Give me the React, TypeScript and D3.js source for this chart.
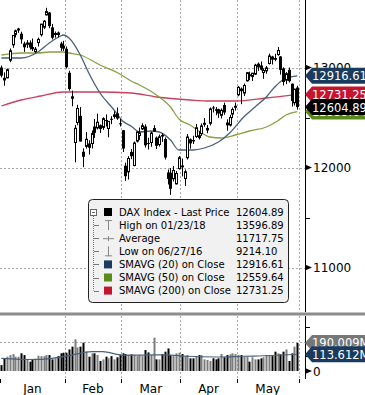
import React from 'react'
import { scaleLinear, line, curveMonotoneX } from 'd3'

// trading sessions shown (Xetra), one entry per candle
const sessions = [
  '12/29/17',
  '01/02/18', '01/03/18', '01/04/18', '01/05/18', '01/08/18', '01/09/18', '01/10/18', '01/11/18', '01/12/18', '01/15/18', '01/16/18',
  '01/17/18', '01/18/18', '01/19/18', '01/22/18', '01/23/18', '01/24/18', '01/25/18', '01/26/18', '01/29/18', '01/30/18', '01/31/18',
  '02/01/18', '02/02/18', '02/05/18', '02/06/18', '02/07/18', '02/08/18', '02/09/18', '02/12/18', '02/13/18', '02/14/18',
  '02/15/18', '02/16/18', '02/19/18', '02/20/18', '02/21/18', '02/22/18', '02/23/18', '02/26/18', '02/27/18', '02/28/18',
  '03/01/18', '03/02/18', '03/05/18', '03/06/18', '03/07/18', '03/08/18', '03/09/18', '03/12/18', '03/13/18', '03/14/18', '03/15/18',
  '03/16/18', '03/19/18', '03/20/18', '03/21/18', '03/22/18', '03/23/18', '03/26/18', '03/27/18', '03/28/18', '03/29/18',
  '04/03/18', '04/04/18', '04/05/18', '04/06/18', '04/09/18', '04/10/18', '04/11/18', '04/12/18', '04/13/18', '04/16/18',
  '04/17/18', '04/18/18', '04/19/18', '04/20/18', '04/23/18', '04/24/18', '04/25/18', '04/26/18', '04/27/18', '04/30/18',
  '05/02/18', '05/03/18', '05/04/18', '05/07/18', '05/08/18', '05/09/18', '05/10/18', '05/11/18', '05/14/18', '05/15/18', '05/16/18',
  '05/17/18', '05/18/18', '05/21/18', '05/22/18', '05/23/18', '05/24/18', '05/25/18', '05/28/18', '05/29/18', '05/30/18', '05/31/18'
]

const openPx = [
  13000, 12897, 12897, 13073, 13227, 13331, 13378, 13338, 13240, 13232, 13250, 13205, 13160, 13249, 13328, 13403, 13526, 13550, 13401, 13330, 13350, 13240, 13219,
  13187, 12947, 12712, 12250, 12450, 12517, 12157, 12211, 12240, 12240, 12410, 12396, 12423, 12401, 12475, 12390, 12487, 12510, 12542, 12442,
  12373, 12018, 11957, 12156, 12020, 12264, 12320, 12386, 12410, 12244, 12250, 12363, 12299, 12230, 12325, 12284, 11950, 11947, 11888, 11836, 11990,
  12020, 11890, 12098, 12283, 12275, 12310, 12323, 12338, 12432, 12376, 12442, 12600, 12583, 12583, 12522, 12625, 12450, 12424, 12534, 12602,
  12727, 12790, 12744, 12867, 12932, 12911, 12934, 13038, 13021, 12950, 12967, 13040, 13110, 13094, 13130, 13110, 12990, 12873, 12977, 12838, 12648, 12799
]
const highPx = [
  13020, 12951, 12990, 13190, 13320, 13379, 13397, 13358, 13258, 13274, 13271, 13290, 13205, 13300, 13434, 13474, 13596.89, 13555, 13436, 13360, 13360, 13257, 13267,
  13210, 12967, 12768, 12426, 12627, 12604, 12192, 12354, 12272, 12370, 12485, 12539, 12431, 12502, 12530, 12461, 12513, 12562, 12600, 12487,
  12376, 12048, 12113, 12185, 12260, 12361, 12400, 12443, 12432, 12297, 12359, 12423, 12310, 12330, 12344, 12300, 11980, 11994, 12014, 11965, 12114,
  12090, 11980, 12334, 12291, 12317, 12436, 12365, 12440, 12496, 12425, 12600, 12616, 12604, 12588, 12590, 12648, 12482, 12526, 12600, 12650,
  12813, 12800, 12840, 12955, 12958, 12946, 13037, 13050, 13060, 12992, 13015, 13139, 13117, 13137, 13204, 13114, 13002, 12954, 13000, 12840, 12788, 12817
]
const lowPx = [
  12900, 12817, 12892, 13053, 13197, 13300, 13347, 13238, 13157, 13195, 13179, 13165, 13146, 13210, 13310, 13385, 13520, 13393, 13282, 13298, 13300, 13166, 13166,
  12990, 12768, 12612, 12052, 12423, 12260, 12003, 12189, 12130, 12190, 12296, 12380, 12345, 12376, 12410, 12302, 12433, 12487, 12477, 12410,
  12155, 11867, 11880, 12083, 12012, 12250, 12275, 12376, 12200, 12180, 12207, 12355, 12184, 12209, 12256, 12080, 11830, 11726, 11860, 11831, 11980,
  11911, 11816, 12080, 12188, 12235, 12296, 12280, 12316, 12407, 12343, 12420, 12550, 12523, 12496, 12490, 12527, 12368, 12410, 12493, 12569,
  12713, 12633, 12715, 12860, 12873, 12866, 12925, 12966, 12970, 12887, 12937, 13030, 13030, 13063, 13117, 12929, 12820, 12833, 12850, 12609, 12620, 12578
]
const closePx = [
  12918, 12871, 12978, 13167, 13320, 13367, 13385, 13281, 13202, 13245, 13200, 13183, 13183, 13281, 13434, 13463, 13559, 13414, 13298, 13340, 13324, 13197, 13189,
  13003, 12785, 12687, 12392, 12590, 12260, 12107, 12282, 12197, 12339, 12346, 12452, 12385, 12488, 12470, 12461, 12483, 12527, 12490, 12435,
  12190, 11913, 12090, 12113, 12245, 12355, 12346, 12418, 12222, 12237, 12345, 12389, 12217, 12307, 12309, 12100, 11886, 11787, 11970, 11940, 12097,
  12002, 11957, 12305, 12241, 12261, 12397, 12294, 12415, 12442, 12391, 12585, 12590, 12567, 12540, 12572, 12550, 12422, 12500, 12580, 12612,
  12802, 12763, 12820, 12948, 12912, 12943, 13023, 13001, 12978, 12970, 12996, 13115, 13078, 13077, 13170, 12976, 12855, 12938, 12863, 12666, 12783, 12604.89
]
// volume in millions
const volumeM = [
  40, 86, 97, 108, 115, 97, 97, 120, 108, 75, 63, 82, 84, 104, 101, 101, 108, 108, 79, 86, 101, 120, 124,
  124, 146, 165, 215, 160, 165, 192, 131, 97, 120, 120, 108, 68, 79, 97, 86, 101, 79, 93, 108,
  120, 115, 108, 113, 108, 101, 108, 101, 142, 126, 108, 226, 79, 79, 115, 131, 153, 108, 101, 120, 124,
  115, 101, 108, 86, 86, 97, 108, 108, 79, 75, 68, 86, 79, 86, 115, 93, 108, 113, 120, 115,
  108, 108, 97, 97, 63, 93, 79, 79, 86, 93, 108, 108, 101, 131, 120, 113, 131, 146, 68, 120, 165, 190.009
]

// moving averages at selected sessions (index into sessions)
const sma20At = [0, 7, 13, 17, 21, 22, 24, 28, 31, 35, 40, 43, 46, 49, 53, 56, 60, 63, 68, 72, 77, 81, 86, 90, 94, 97, 101, 105]
const sma20Val = [13095, 13095, 13155, 13245, 13315, 13325, 13295, 13125, 12945, 12745, 12575, 12465, 12415, 12355, 12365, 12355, 12275, 12175, 12175, 12195, 12255, 12345, 12505, 12605, 12705, 12805, 12895, 12916.61]
const sma50At = [0, 7, 13, 17, 22, 24, 28, 35, 42, 46, 49, 54, 60, 63, 67, 70, 74, 78, 83, 88, 94, 98, 101, 105]
const sma50Val = [13125, 13145, 13145, 13155, 13155, 13145, 13125, 13025, 12935, 12865, 12825, 12745, 12605, 12485, 12425, 12365, 12305, 12295, 12325, 12365, 12405, 12465, 12525, 12559.64]
const sma200At = [0, 7, 14, 22, 28, 35, 46, 55, 67, 74, 83, 94, 105]
const sma200Val = [12615, 12675, 12715, 12755, 12755, 12755, 12745, 12705, 12675, 12665, 12665, 12695, 12731.25]
const volAvgAt = [0, 11, 18, 25, 32, 36, 43, 50, 58, 66, 76, 86, 96, 105]
const volAvgVal = [86, 78, 86, 108, 131, 131, 108, 108, 110, 100, 95, 100, 105, 113.612]

const priceTicks = [11000, 12000, 13000]
const priceMinor = [11500, 12500]
const volTicks = [100, 200, 300]
const monthNames = ['Jan', 'Feb', 'Mar', 'Apr', 'May']

const legendRows = [
  { label: 'DAX Index - Last Price', value: '12604.89' },
  { label: 'High on 01/23/18', value: '13596.89' },
  { label: 'Average', value: '11717.75' },
  { label: 'Low on 06/27/16', value: '9214.10' },
  { label: 'SMAVG (20) on Close', value: '12916.61' },
  { label: 'SMAVG (50) on Close', value: '12559.64' },
  { label: 'SMAVG (200) on Close', value: '12731.25' }
]

const NAVY = '#1b3b5e'
const GREEN = '#5b8a1c'
const RED = '#c4142e'
const FONT = 'DejaVu Sans, Verdana, sans-serif'
const AXIS_X = 305
const MAIN_BOTTOM = 312
const VOL_TOP = 316
const VOL_BOTTOM = 379

const Tag: React.FC<{ y: number; text: string; fill: string }> = ({ y, text, fill }) => (
  <g>
    <path d={`M${AXIS_X},${y} L${AXIS_X + 7},${y - 8} L370,${y - 8} L370,${y + 8} L${AXIS_X + 7},${y + 8} Z`} fill={fill} />
    <text x={AXIS_X + 7} y={y + 4.5} fill="#fff" fontSize={11.5} fontFamily={FONT}>
      {text}
    </text>
  </g>
)

export default function App() {
  const x = scaleLinear().domain([-0.5, 105.6]).range([0, 299])
  const y = scaleLinear().domain([11000, 13000]).range([267.5, 67.5])
  const yv = scaleLinear().domain([0, 200]).range([371, 341.5])

  // month boundaries: the chart opens on the last December session, Jan spans from the left edge
  const bounds: number[] = [-0.5]
  sessions.forEach((s, i) => {
    if (i > 1 && s.slice(0, 2) !== sessions[i - 1].slice(0, 2)) bounds.push(i - 0.5)
  })
  bounds.push(sessions.length - 0.5)
  const monthB = bounds.slice(1)

  const maLine = (at: number[], vals: number[]) =>
    line<number>()
      .x((_, i) => x(at[i]))
      .y((d) => y(d))
      .curve(curveMonotoneX)(vals) || ''
  const volLine =
    line<number>()
      .x((_, i) => x(volAvgAt[i]))
      .y((d) => yv(d))
      .curve(curveMonotoneX)(volAvgVal) || ''

  const legendY = (i: number) => 212 + i * 13.1
  const px = (v: number) => Math.round(v) + 0.5

  return (
    <svg width={365} height={395} style={{ position: 'absolute', left: 0, top: 0, background: '#fff' }}>
      {/* grid */}
      <g stroke="#a8a8a8" strokeDasharray="2,2" strokeWidth={1}>
        {monthB.map((b) => (
          <React.Fragment key={b}>
            <line x1={px(x(b))} x2={px(x(b))} y1={0} y2={MAIN_BOTTOM} />
            <line x1={px(x(b))} x2={px(x(b))} y1={VOL_TOP} y2={VOL_BOTTOM} />
          </React.Fragment>
        ))}
        {priceTicks.map((t) => (
          <line key={t} x1={0} x2={AXIS_X} y1={px(y(t))} y2={px(y(t))} />
        ))}
        <line x1={0} x2={AXIS_X} y1={px(yv(200))} y2={px(yv(200))} />
      </g>

      {/* moving averages */}
      <path d={maLine(sma200At, sma200Val)} fill="none" stroke="#c8405c" strokeWidth={1.3} />
      <path d={maLine(sma50At, sma50Val)} fill="none" stroke="#8aa043" strokeWidth={1.3} />
      <path d={maLine(sma20At, sma20Val)} fill="none" stroke="#4a6078" strokeWidth={1.3} />

      {/* candles */}
      <g>
        {sessions.map((s, i) => {
          const cx = px(x(i))
          const o = openPx[i]
          const c = closePx[i]
          const yt = y(Math.max(o, c))
          const yb = y(Math.min(o, c))
          const h = Math.max(1, yb - yt)
          return (
            <g key={s}>
              <line x1={cx} x2={cx} y1={y(highPx[i])} y2={y(lowPx[i])} stroke="#000" strokeWidth={1} />
              {c >= o ? (
                <rect x={cx - 1} y={yt} width={2} height={h} fill="#fff" stroke="#000" strokeWidth={1} />
              ) : (
                <rect x={cx - 1.5} y={yt} width={3} height={h} fill="#000" />
              )}
            </g>
          )
        })}
      </g>

      {/* volume */}
      <g>
        {sessions.map((s, i) => (
          <rect
            key={s}
            x={Math.round(x(i)) - 0.5}
            y={yv(volumeM[i])}
            width={2}
            height={yv(0) - yv(volumeM[i])}
            fill={closePx[i] >= openPx[i] ? '#7c7c7c' : '#000'}
          />
        ))}
      </g>
      <path d={volLine} fill="none" stroke="#4a6078" strokeWidth={1.2} />

      {/* separator between panels */}
      <rect x={0} y={312.5} width={365} height={3} fill="#8c8c8c" />

      {/* right axes */}
      <g stroke="#000" strokeWidth={1}>
        <line x1={AXIS_X + 0.5} x2={AXIS_X + 0.5} y1={0} y2={MAIN_BOTTOM} />
        <line x1={AXIS_X + 0.5} x2={AXIS_X + 0.5} y1={VOL_TOP} y2={VOL_BOTTOM} />
        {priceMinor.map((t) => (
          <line key={t} x1={AXIS_X} x2={AXIS_X + 5} y1={px(y(t))} y2={px(y(t))} />
        ))}
        {volTicks.map((t) => (
          <line key={t} x1={AXIS_X} x2={AXIS_X + 5} y1={px(yv(t))} y2={px(yv(t))} />
        ))}
        {bounds.map((b) => (
          <line key={b} x1={px(x(b))} x2={px(x(b))} y1={VOL_BOTTOM} y2={VOL_BOTTOM + 4} />
        ))}
      </g>
      {priceTicks.map((t) => (
        <g key={t}>
          <path d={`M${AXIS_X},${y(t) - 3} L${AXIS_X + 7},${y(t)} L${AXIS_X},${y(t) + 3} Z`} fill="#000" />
          <text x={AXIS_X + 8} y={y(t) + 4.5} fontSize={12} fontFamily={FONT} fill="#000">
            {t}
          </text>
        </g>
      ))}
      <path d={`M${AXIS_X},${yv(0) - 3} L${AXIS_X + 7},${yv(0)} L${AXIS_X},${yv(0) + 3} Z`} fill="#000" />
      <text x={AXIS_X + 8} y={yv(0) + 4.5} fontSize={12} fontFamily={FONT} fill="#000">
        0
      </text>

      {/* month labels */}
      {monthNames.map((m, i) => (
        <text key={m} x={(x(bounds[i]) + x(bounds[i + 1])) / 2} y={393} textAnchor="middle" fontSize={12} fontFamily={FONT} fill="#000">
          {m}
        </text>
      ))}

      {/* value tags */}
      <Tag y={y(12559.64)} text="12559.64" fill={GREEN} />
      <Tag y={y(12916.61)} text="12916.61" fill={NAVY} />
      <Tag y={y(12731.25)} text="12731.25" fill={RED} />
      <Tag y={y(12604.89)} text="12604.89" fill="#000" />
      <Tag y={yv(190.009)} text="190.009M" fill="#777" />
      <Tag y={yv(113.612)} text="113.612M" fill={NAVY} />

      {/* legend */}
      <g fontFamily={FONT} fontSize={10} fill="#000">
        <rect x={88.5} y={199.5} width={200} height={103} rx={4} fill="#f1f1f1" stroke="#222" />
        <rect x={90.5} y={209.5} width={6} height={6} fill="#fff" stroke="#666" />
        <line x1={92} x2={95} y1={212.5} y2={212.5} stroke="#666" />
        <line x1={93.5} x2={93.5} y1={216} y2={legendY(6)} stroke="#777" strokeDasharray="1,1" />
        {legendRows.slice(1).map((r, k) => (
          <line key={r.label} x1={94} x2={99} y1={px(legendY(k + 1))} y2={px(legendY(k + 1))} stroke="#777" />
        ))}
        <rect x={104} y={legendY(0) - 4} width={8} height={8} fill="#000" />
        <g stroke="#888" strokeWidth={1}>
          <line x1={108.5} x2={108.5} y1={legendY(1) - 5} y2={legendY(1) + 5} />
          <line x1={105} x2={112} y1={legendY(1) - 4.5} y2={legendY(1) - 4.5} />
          <line x1={103} x2={114} y1={legendY(2) + 0.5} y2={legendY(2) + 0.5} />
          <line x1={108.5} x2={108.5} y1={legendY(2) - 2} y2={legendY(2) + 3} />
          <line x1={108.5} x2={108.5} y1={legendY(3) - 5} y2={legendY(3) + 5} />
          <line x1={105} x2={112} y1={legendY(3) + 4.5} y2={legendY(3) + 4.5} />
        </g>
        <rect x={104} y={legendY(4) - 4} width={8} height={8} fill={NAVY} />
        <rect x={104} y={legendY(5) - 4} width={8} height={8} fill={GREEN} />
        <rect x={104} y={legendY(6) - 4} width={8} height={8} fill={RED} />
        {legendRows.map((r, k) => (
          <React.Fragment key={r.label}>
            <text x={119} y={legendY(k) + 3.8}>
              {r.label}
            </text>
            <text x={236} y={legendY(k) + 3.8}>
              {r.value}
            </text>
          </React.Fragment>
        ))}
      </g>
    </svg>
  )
}
